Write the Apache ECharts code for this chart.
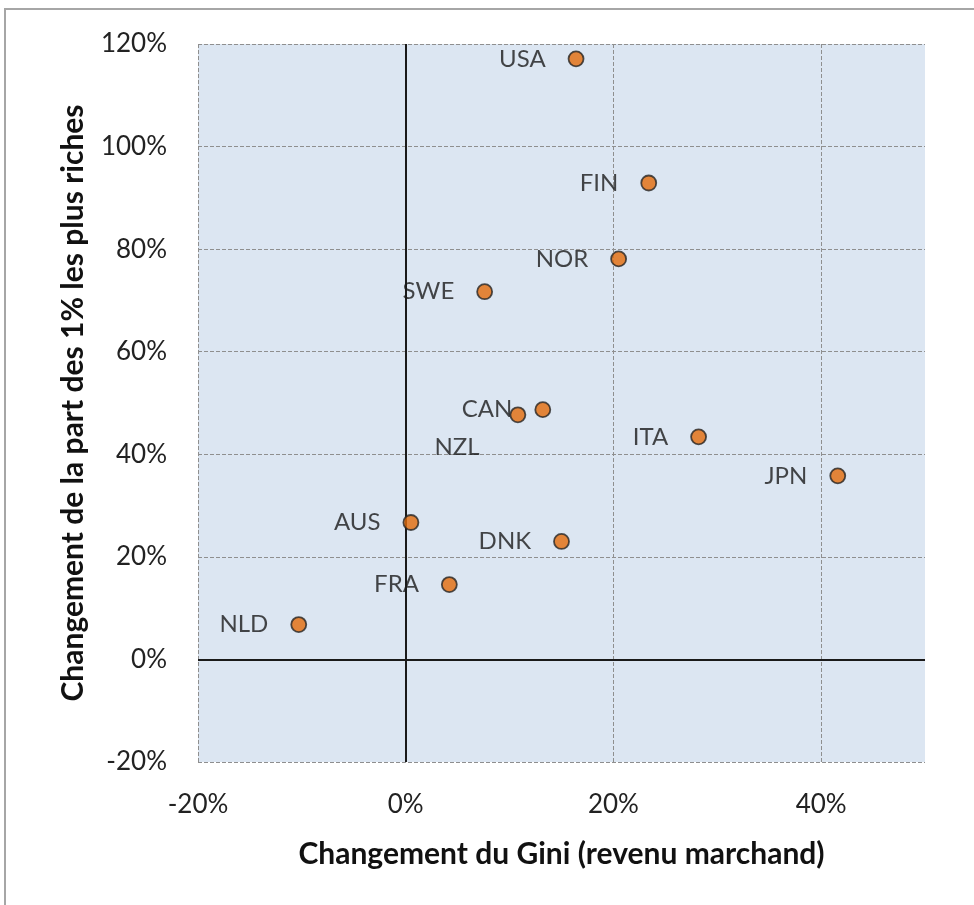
<!DOCTYPE html>
<html><head><meta charset="utf-8">
<script src="https://cdn.jsdelivr.net/npm/echarts@6/dist/echarts.min.js"></script>
<style>html,body{margin:0;padding:0;background:#fff}#c{width:974px;height:905px}</style>
</head><body><div id="c"></div>
<script>
const countries = ['USA','FIN','NOR','SWE','CAN','NZL','ITA','JPN','AUS','DNK','FRA','NLD'];
const giniChange = [16.4, 23.4, 20.5, 7.6, 13.2, 10.8, 28.2, 41.6, 0.5, 15.0, 4.2, -10.3];
const top1Change = [117.1, 92.9, 78.1, 71.7, 48.7, 47.7, 43.4, 35.8, 26.7, 23.0, 14.6, 6.8];
const xTitle = 'Changement du Gini (revenu marchand)';
const yTitle = 'Changement de la part des 1% les plus riches';

const FONT = 'Lato';
const chart = echarts.init(document.getElementById('c'), null, {renderer:'canvas'});
const data = countries.map((c,i) => {
  const d = {name:c, value:[giniChange[i], top1Change[i]]};
  if (c === 'NZL') d.label = {offset:[-8, 32]};
  return d;
});
chart.setOption({
  animation:false,
  backgroundColor:'#ffffff',
  graphic:[{type:'rect', shape:{x:5, y:9, width:1100, height:1100}, style:{fill:'none', stroke:'#a6a6a6', lineWidth:2}, silent:true}],
  grid:{left:198, right:49, top:44, bottom:143, show:true, backgroundColor:'#DCE6F2', borderWidth:0},
  xAxis:{type:'value', min:-20, max:50, interval:20,
    name:xTitle, nameLocation:'middle', nameGap:77,
    nameTextStyle:{fontFamily:FONT, fontWeight:'bold', fontSize:30, color:'#111'},
    axisLine:{show:false}, axisTick:{show:false},
    axisLabel:{formatter:v=>v+'%', fontFamily:FONT, fontSize:26, color:'#222', margin:30, showMaxLabel:false},
    splitLine:{show:true, showMaxLine:false, lineStyle:{color:'#8f8f8f', type:[4,2], width:1}}
  },
  yAxis:{type:'value', min:-20, max:120, interval:20,
    name:yTitle, nameLocation:'middle', nameGap:110,
    nameTextStyle:{fontFamily:FONT, fontWeight:'bold', fontSize:30, color:'#111'},
    axisLine:{show:false}, axisTick:{show:false},
    axisLabel:{formatter:v=>v+'%', fontFamily:FONT, fontSize:26, color:'#222', margin:31},
    splitLine:{show:true, lineStyle:{color:'#8f8f8f', type:[4,2], width:1}}
  },
  series:[{
    type:'scatter', data:data, symbol:'circle', symbolSize:15,
    itemStyle:{color:'#E46C0A', borderColor:'#262626', borderWidth:1.8},
    label:{show:true, position:'left', distance:22, formatter:p=>p.name,
      fontFamily:FONT, fontSize:24, color:'#1a1a1a'},
    markLine:{silent:true, symbol:'none', label:{show:false},
      lineStyle:{color:'#1a1a1a', type:'solid', width:2},
      data:[{xAxis:0},{yAxis:0}]},
    z:5
  }]
});
</script></body></html>
